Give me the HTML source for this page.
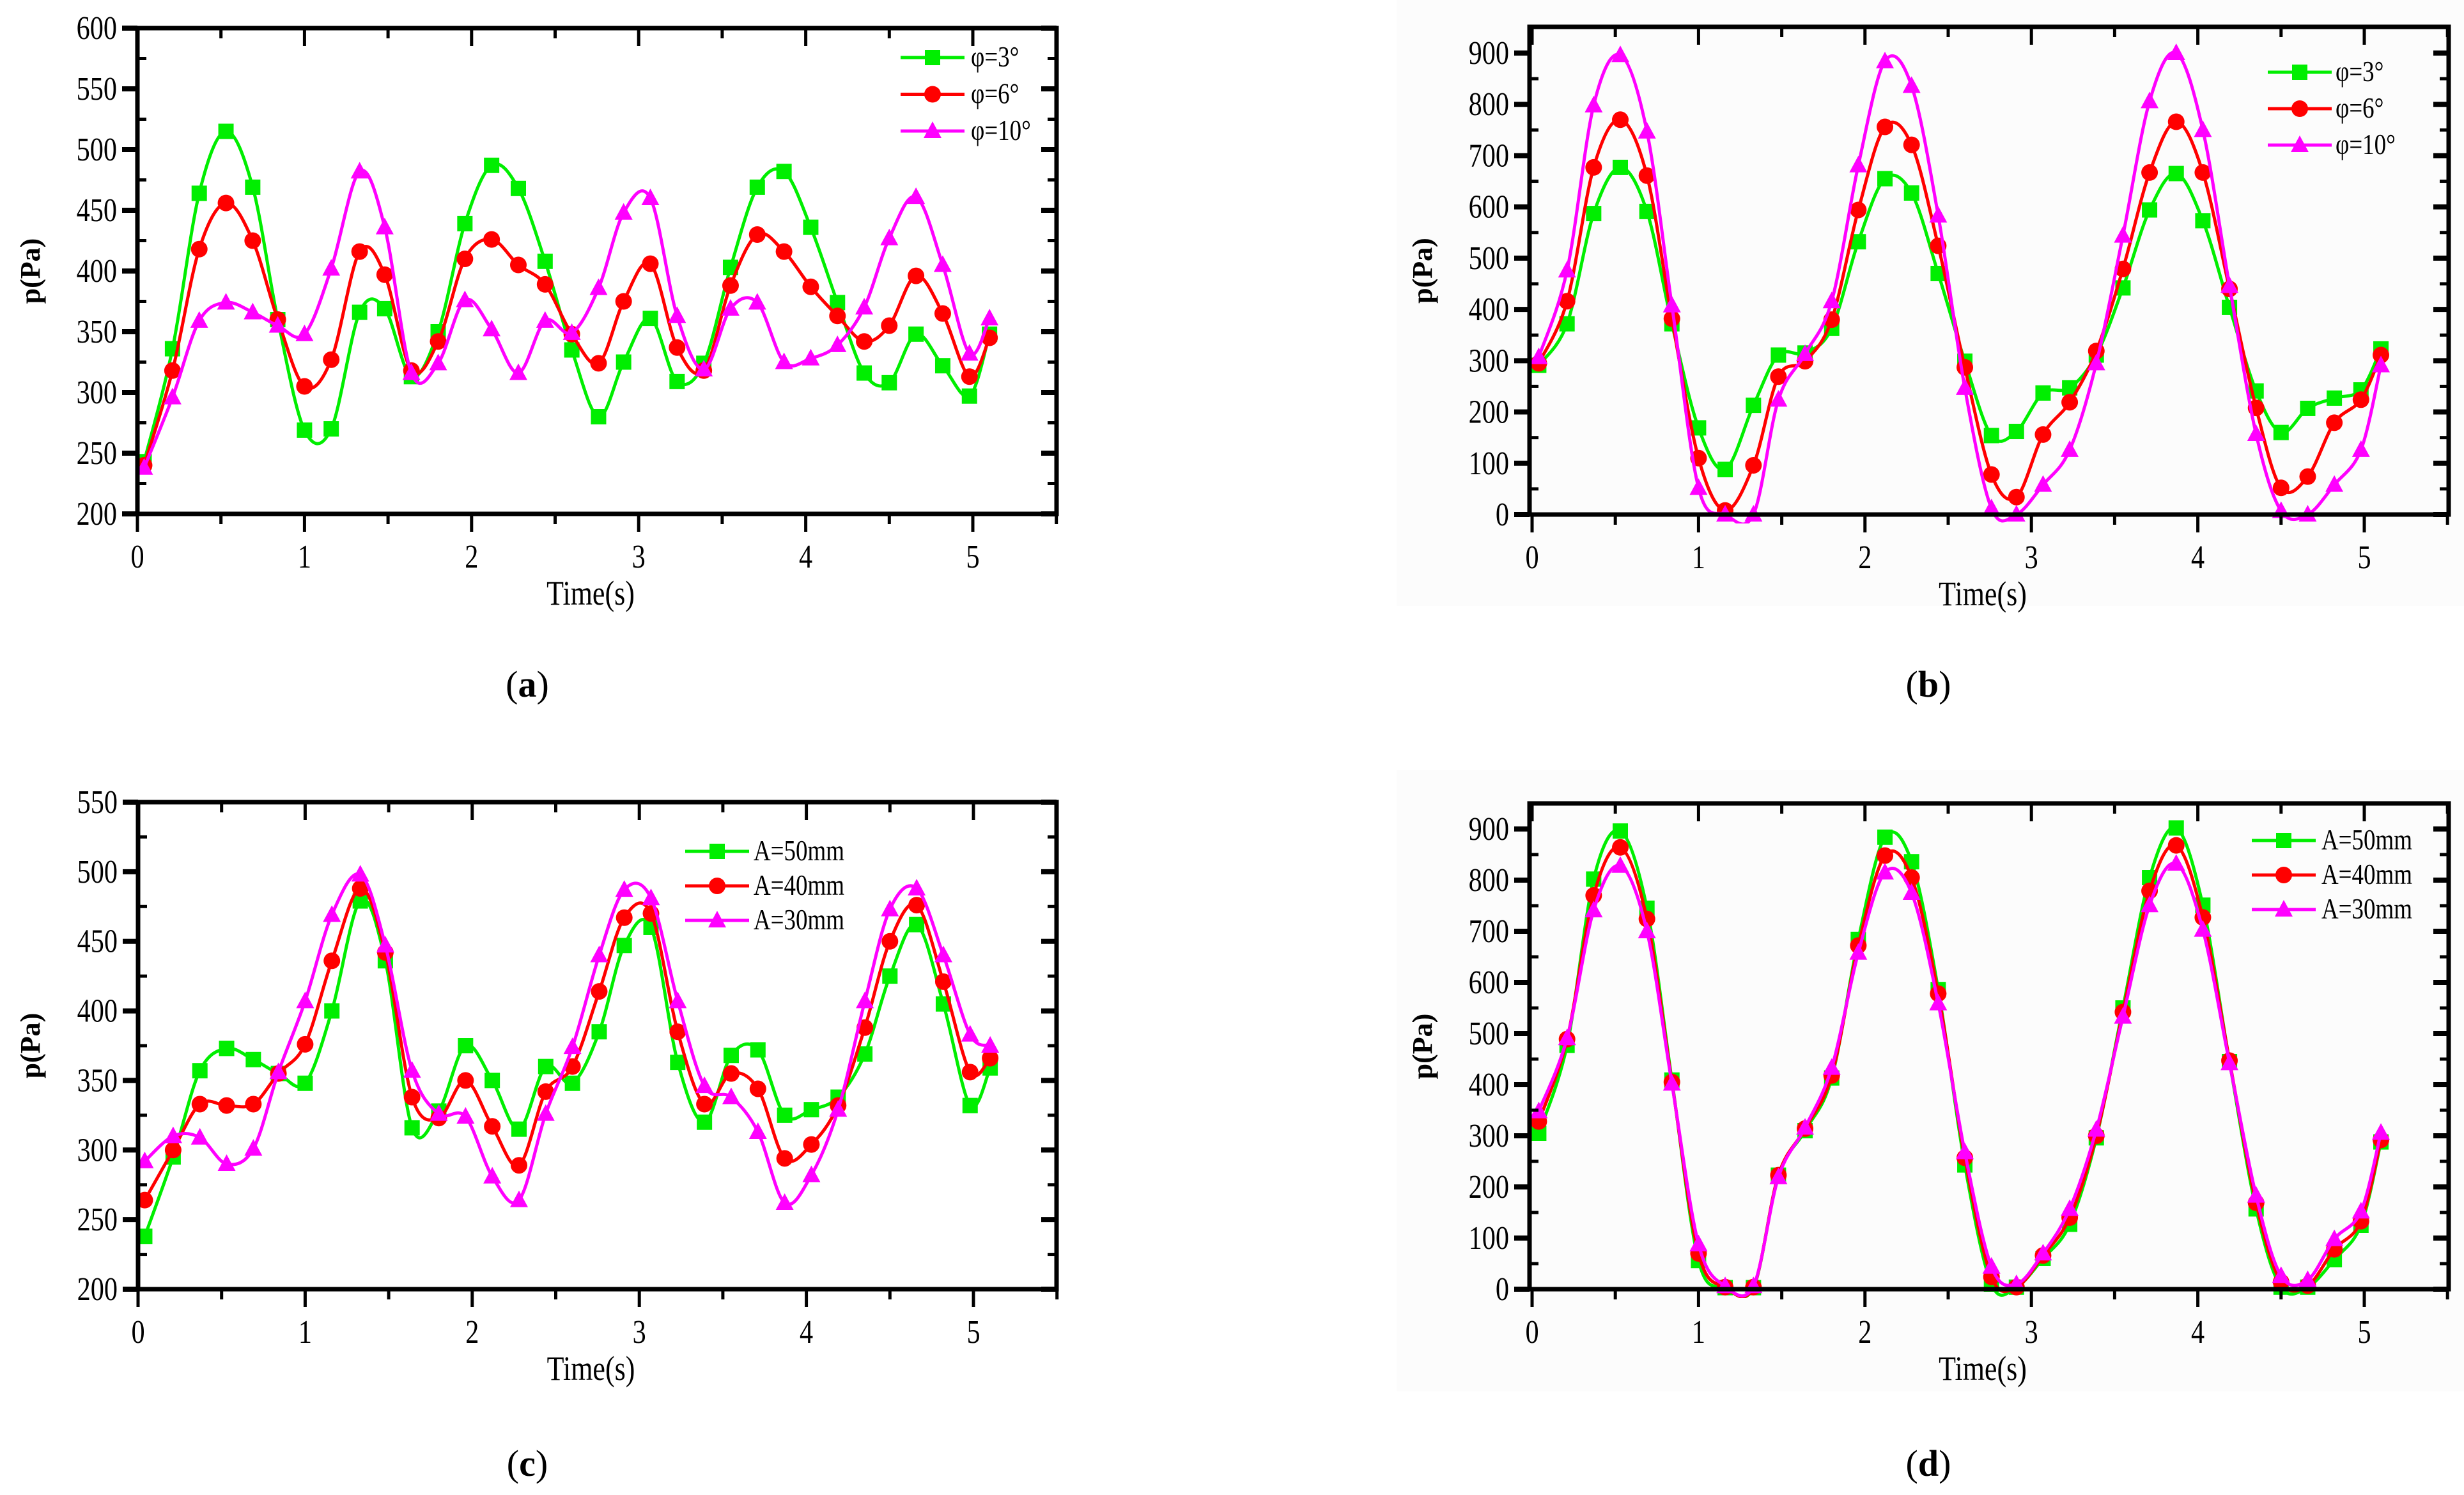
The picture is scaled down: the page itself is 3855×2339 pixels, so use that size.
<!DOCTYPE html>
<html><head><meta charset="utf-8"><style>
html,body{margin:0;padding:0;background:#fff;}
svg{display:block;}
text{font-family:"Liberation Serif",serif;fill:#000;}
</style></head><body>
<svg id="fig" width="3855" height="2339" viewBox="0 0 3855 2339" xmlns="http://www.w3.org/2000/svg">
<rect x="0" y="0" width="3855" height="2339" fill="#fff"/>
<rect x="2185" y="0" width="1670" height="948" fill="#fcfcfc"/>
<rect x="2185" y="1205" width="1670" height="972" fill="#fcfcfc"/>
<text x="825" y="1090" font-size="58" text-anchor="middle">(<tspan font-weight="bold">a</tspan>)</text>
<text x="3017" y="1090" font-size="58" text-anchor="middle">(<tspan font-weight="bold">b</tspan>)</text>
<text x="825" y="2309" font-size="58" text-anchor="middle">(<tspan font-weight="bold">c</tspan>)</text>
<text x="3017" y="2309" font-size="58" text-anchor="middle">(<tspan font-weight="bold">d</tspan>)</text>
</svg>
<script>
const times = [0.04,0.21,0.37,0.53,0.69,0.84,1.0,1.16,1.33,1.48,1.64,1.80,1.96,2.12,2.28,2.44,2.60,2.76,2.91,3.07,3.23,3.39,3.55,3.71,3.87,4.03,4.19,4.35,4.50,4.66,4.82,4.98,5.10];
const xTicks = [0,1,2,3,4,5];
const aTicks = [200,250,300,350,400,450,500,550,600];
const bTicks = [0,100,200,300,400,500,600,700,800,900];
const cTicks = [200,250,300,350,400,450,500,550];
const dTicks = [0,100,200,300,400,500,600,700,800,900];
const legendA = ["φ=3°","φ=6°","φ=10°"];
const legendC = ["A=50mm","A=40mm","A=30mm"];
const aGreen = [243,336,464,515,469,360,269,270,366,369,313,350,439,487,468,408,335,280,325,361,309,324,403,469,482,436,374,316,308,348,322,297,348];
const aRed = [240,318,418,456,425,360,305,327,416,397,318,342,410,426,405,389,348,324,375,406,337,318,388,430,416,387,363,342,355,396,365,313,345];
const aMag = [238,296,359,374,366,355,348,402,482,436,316,324,376,352,316,359,349,386,448,460,363,319,369,374,325,328,339,370,427,461,405,332,361];
const bGreen = [291,372,587,677,591,372,169,88,213,311,315,363,532,655,627,470,299,154,162,237,247,311,442,594,665,573,404,241,160,207,227,243,323];
const bRed = [295,416,677,770,661,382,110,8,96,269,299,380,594,756,721,524,287,78,34,156,219,319,479,667,766,667,440,208,52,74,179,224,311];
const bMag = [307,476,798,896,747,408,52,0,0,224,313,416,681,884,836,583,247,12,0,58,126,295,544,806,900,750,446,157,7,0,58,126,291];
const cGreen = [238,295,357,373,365,355,348,400,479,436,316,328,375,350,315,360,348,385,447,460,363,320,368,372,325,329,338,369,425,462,405,332,359];
const cRed = [264,300,333,332,333,355,376,436,488,442,338,323,350,317,289,342,360,414,467,470,385,333,355,344,294,304,332,388,450,476,421,356,366];
const cMag = [292,310,309,290,301,356,407,469,498,447,357,326,324,281,264,326,374,440,487,481,407,346,338,313,262,282,329,407,473,488,440,383,375];
const dGreen = [305,477,802,896,745,409,56,3,3,223,310,413,684,884,836,586,243,10,4,60,127,296,550,805,902,751,445,157,4,4,58,125,288];
const dRed = [328,489,770,864,724,405,70,4,4,223,314,418,672,848,805,578,257,24,4,66,140,300,542,779,868,727,447,169,14,7,78,133,292];
const dMag = [348,491,741,828,700,402,88,6,6,219,316,433,658,815,775,559,268,44,10,70,157,312,533,751,832,703,442,183,26,18,98,152,306];

const NS = "http://www.w3.org/2000/svg";
const svg = document.getElementById('fig');
function mk(tag, attrs, parent){
  const e = document.createElementNS(NS, tag);
  for (const k in attrs) e.setAttribute(k, attrs[k]);
  (parent||svg).appendChild(e);
  return e;
}
const COLORS = ["#00ee00","#ff0000","#ff00ff"];
const defs = mk('defs',{});

function catmull(pts){
  let d = "M" + pts[0][0].toFixed(1) + "," + pts[0][1].toFixed(1);
  for (let i=0;i<pts.length-1;i++){
    const p0 = pts[Math.max(0,i-1)], p1 = pts[i], p2 = pts[i+1], p3 = pts[Math.min(pts.length-1,i+2)];
    const c1x = p1[0] + (p2[0]-p0[0])/6, c1y = p1[1] + (p2[1]-p0[1])/6;
    const c2x = p2[0] - (p3[0]-p1[0])/6, c2y = p2[1] - (p3[1]-p1[1])/6;
    d += " C" + c1x.toFixed(1)+","+c1y.toFixed(1)+" "+c2x.toFixed(1)+","+c2y.toFixed(1)+" "+p2[0].toFixed(1)+","+p2[1].toFixed(1);
  }
  return d;
}

function marker(g, kind, x, y, color){
  let m;
  if (kind===0){
    m = mk('rect',{x:x-12,y:y-12,width:24,height:24,fill:color},g);
  } else if (kind===1){
    m = mk('circle',{cx:x,cy:y,r:13,fill:color},g);
  } else {
    m = mk('polygon',{points:(x)+","+(y-15)+" "+(x-14)+","+(y+11)+" "+(x+14)+","+(y+11),fill:color},g);
  }
  
  
}

function ctext(g, x, y, size, anchor, str, extra){
  const t = mk('text',Object.assign({x:0,y:0,'font-size':size,'text-anchor':anchor,transform:'translate('+x+','+y+') scale(0.88,1.08)'},extra||{}),g);
  t.textContent = str;
  return t;
}

function panel(cfg){
  const g = mk('g',{});
  
  
  const cp = mk('clipPath',{id:'clip-'+cfg.name},defs);
  mk('rect',{x:cfg.fl,y:cfg.ft,width:cfg.fr-cfg.fl,height:cfg.yb-cfg.ft+14},cp);
  const sg = mk('g',{'clip-path':'url(#clip-'+cfg.name+')'},g);
  
  
  const xs = v => cfg.x0 + (v - 0) * cfg.xs;
  const ys = v => cfg.yb - (v - cfg.ymin) * cfg.ysc;
  cfg.series.forEach((vals, si) => {
    const pts = vals.map((v,i)=>[xs(times[i]), ys(v)]);
    const p = mk('path',{d:catmull(pts),fill:'none',stroke:COLORS[si],'stroke-width':5,'stroke-linejoin':'round'},sg);
    
    
    pts.forEach(pt => marker(sg, si, pt[0], pt[1], COLORS[si]));
  });
  const fr = mk('rect',{x:cfg.fl,y:cfg.ft,width:cfg.fr-cfg.fl,height:cfg.yb-cfg.ft,fill:'none',stroke:'#000','stroke-width':7},g);
  
  
  for (let v=0; v<=5.5; v+=0.5){
    const x = xs(v);
    const major = Math.abs(v-Math.round(v))<1e-6;
    mk('line',{x1:x,y1:cfg.yb,x2:x,y2:cfg.yb+(major?28:16),stroke:'#000','stroke-width':5},g);
    mk('line',{x1:x,y1:cfg.ft,x2:x,y2:cfg.ft+(major?28:16),stroke:'#000','stroke-width':5},g);
  }
  xTicks.forEach(v => {
    const t = ctext(g, xs(v), cfg.yb+84, 48, 'middle', v);
    
    
  });
  const yt = cfg.yticks;
  const step = yt[1]-yt[0];
  for (let v=yt[0]; v<=cfg.ymax+1e-6; v+=step/2){
    const y = ys(v);
    const major = Math.abs(((v-yt[0])/step)-Math.round((v-yt[0])/step))<1e-6;
    mk('line',{x1:cfg.fl-(major?24:0),y1:y,x2:cfg.fl+(major?0:14),y2:y,stroke:'#000','stroke-width':major?8:5},g);
    mk('line',{x1:cfg.fr-(major?24:14),y1:y,x2:cfg.fr,y2:y,stroke:'#000','stroke-width':major?8:5},g);
  }
  yt.forEach(v => {
    const t = ctext(g, cfg.fl-32, ys(v)+17, 48, 'end', v);
    
    
  });
  const xt = ctext(g, (cfg.fl+cfg.fr)/2 - 10, cfg.yb+142, 50, 'middle', 'Time(s)');
  
  
  const yl = mk('text',{x:0,y:0,'font-size':44,'font-weight':'bold','text-anchor':'middle',transform:'translate('+cfg.ylx+','+((cfg.ft+cfg.yb)/2)+') rotate(-90)'},g);
  yl.textContent = 'p(Pa)';
  
  
  cfg.legend.forEach((lab, i) => {
    const y = cfg.lg[1] + i*cfg.lg[3];
    const l = mk('line',{x1:cfg.lg[0],y1:y,x2:cfg.lg[0]+100,y2:y,stroke:COLORS[i],'stroke-width':5},g);
    
    
    marker(g, i, cfg.lg[0]+50, y, COLORS[i]);
    const t = ctext(g, cfg.lg[2], y+14, 42, 'start', lab);
    
    
  });
}

panel({name:'panel-a',x0:215,xs:261.4,fl:215,fr:1653,ft:44,yb:804,ymin:200,ymax:600,ysc:760/400,yticks:aTicks,series:[aGreen,aRed,aMag],legend:legendA,lg:[1409,90,1519,57.5],ylx:62});
panel({name:'panel-b',x0:2397,xs:260.4,fl:2393,fr:3831,ft:42,yb:805,ymin:0,ymax:950,ysc:722/900,yticks:bTicks,series:[bGreen,bRed,bMag],legend:legendA,lg:[3548,113,3654,57],ylx:2240});
panel({name:'panel-c',x0:216,xs:261.4,fl:216,fr:1653,ft:1255,yb:2017,ymin:200,ymax:550,ysc:762/350,yticks:cTicks,series:[cGreen,cRed,cMag],legend:legendC,lg:[1072,1332,1179,54],ylx:62});
panel({name:'panel-d',x0:2397,xs:260.4,fl:2393,fr:3831,ft:1257,yb:2017,ymin:0,ymax:950,ysc:720/900,yticks:dTicks,series:[dGreen,dRed,dMag],legend:legendC,lg:[3523,1315,3632,54],ylx:2240});
</script>
</body></html>
